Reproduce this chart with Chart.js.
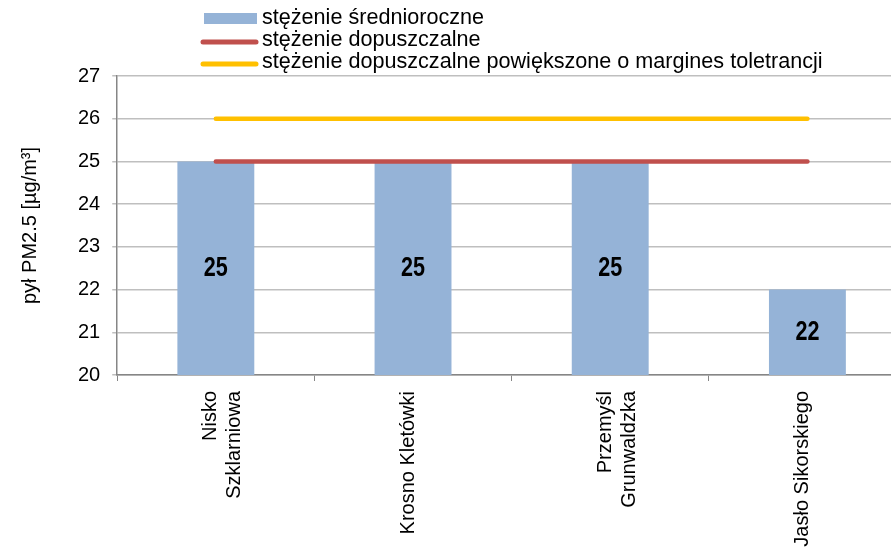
<!DOCTYPE html>
<html>
<head>
<meta charset="utf-8">
<script src="https://cdn.jsdelivr.net/npm/chart.js@4"></script>
<style>
  html, body { margin: 0; padding: 0; background: #fff; overflow: hidden; }
  #wrap { width: 910px; height: 548px; position: relative; }
</style>
</head>
<body>
<div id="wrap"><canvas id="pmChart"></canvas></div>
<script>
// data
const stations = [["Nisko", "Szklarniowa"], "Krosno Kletówki", ["Przemyśl", "Grunwaldzka"], "Jasło Sikorskiego"];
const annualMean = [25, 25, 25, 22];
const limitValue = [25, 25, 25, 25];
const limitWithMargin = [26, 26, 26, 26];
const seriesNames = [
  "stężenie średnioroczne",
  "stężenie dopuszczalne",
  "stężenie dopuszczalne powiększone o margines toletrancji"
];

const fontFamily = "'Liberation Sans', Arial, sans-serif";

// legend stacked on the left, like the original (bar first, then the two lines)
const stackedLegend = {
  id: "stackedLegend",
  afterDraw(chart) {
    const ctx = chart.ctx;
    const x = 204, y0 = 18, rowH = 22;
    const items = [2, 1, 0].map((i) => chart.data.datasets[i]);
    ctx.save();
    ctx.font = "21.6px " + fontFamily;
    ctx.textBaseline = "middle";
    items.forEach((ds, i) => {
      const y = y0 + i * rowH;
      if (ds.type === "line") {
        ctx.strokeStyle = ds.borderColor;
        ctx.lineWidth = 5;
        ctx.lineCap = "round";
        ctx.beginPath();
        ctx.moveTo(x - 1, y + 2);
        ctx.lineTo(x + 52, y + 2);
        ctx.stroke();
      } else {
        ctx.fillStyle = ds.backgroundColor;
        ctx.fillRect(x, y - 5, 53, 11);
      }
      ctx.fillStyle = "#000";
      ctx.fillText(ds.label, x + 58, y);
    });
    ctx.restore();
  }
};

// value written inside each bar, narrow bold like the original
const barValues = {
  id: "barValues",
  afterDraw(chart) {
    const ctx = chart.ctx;
    const yScale = chart.scales.y;
    const xScale = chart.scales.x;
    ctx.save();
    ctx.font = "bold 27px " + fontFamily;
    ctx.fillStyle = "#000";
    ctx.textAlign = "center";
    ctx.textBaseline = "middle";
    annualMean.forEach((v, i) => {
      const cx = xScale.getPixelForValue(i);
      const top = yScale.getPixelForValue(v);
      const bottom = yScale.getPixelForValue(yScale.min);
      ctx.save();
      ctx.translate(cx, (top + bottom) / 2);
      ctx.scale(0.8, 1);
      ctx.fillText(String(v), 0, 0);
      ctx.restore();
    });
    ctx.restore();
  }
};

new Chart(document.getElementById("pmChart"), {
  data: {
    labels: stations,
    datasets: [
      {
        type: "line",
        label: seriesNames[2],
        data: limitWithMargin,
        borderColor: "#FFC000",
        borderWidth: 4.5,
        borderCapStyle: "round",
        pointRadius: 0,
        order: 0
      },
      {
        type: "line",
        label: seriesNames[1],
        data: limitValue,
        borderColor: "#C0504D",
        borderWidth: 4.5,
        borderCapStyle: "round",
        pointRadius: 0,
        order: 1
      },
      {
        type: "bar",
        label: seriesNames[0],
        data: annualMean,
        backgroundColor: "#95B3D7",
        barPercentage: 0.39,
        categoryPercentage: 1,
        order: 2
      }
    ]
  },
  options: {
    responsive: true,
    maintainAspectRatio: false,
    animation: false,
    layout: { padding: { top: 76, left: 18, right: 4, bottom: 0 } },
    plugins: {
      legend: { display: false },
      tooltip: { enabled: false }
    },
    scales: {
      x: {
        offset: true,
        grid: {
          offset: true,
          drawOnChartArea: false,
          drawTicks: true,
          tickLength: 6,
          color: "#868686"
        },
        border: { color: "#868686", width: 1.5 },
        ticks: {
          minRotation: 90,
          maxRotation: 90,
          padding: 10,
          labelOffset: -5,
          color: "#000",
          font: { family: fontFamily, size: 20 }
        },
        afterFit(scale) { scale.height = 173; }
      },
      y: {
        min: 20,
        max: 27,
        ticks: {
          stepSize: 1,
          padding: 12,
          color: "#000",
          font: { family: fontFamily, size: 20 }
        },
        grid: { color: "#BFBFBF", lineWidth: 1.5, tickLength: 5 },
        border: { color: "#868686", width: 1.5 },
        title: {
          display: true,
          text: "pył PM2.5 [µg/m³]",
          color: "#000",
          font: { family: fontFamily, size: 20 },
          padding: { top: 0, bottom: 24 }
        }
      }
    }
  },
  plugins: [stackedLegend, barValues]
});
</script>
</body>
</html>
